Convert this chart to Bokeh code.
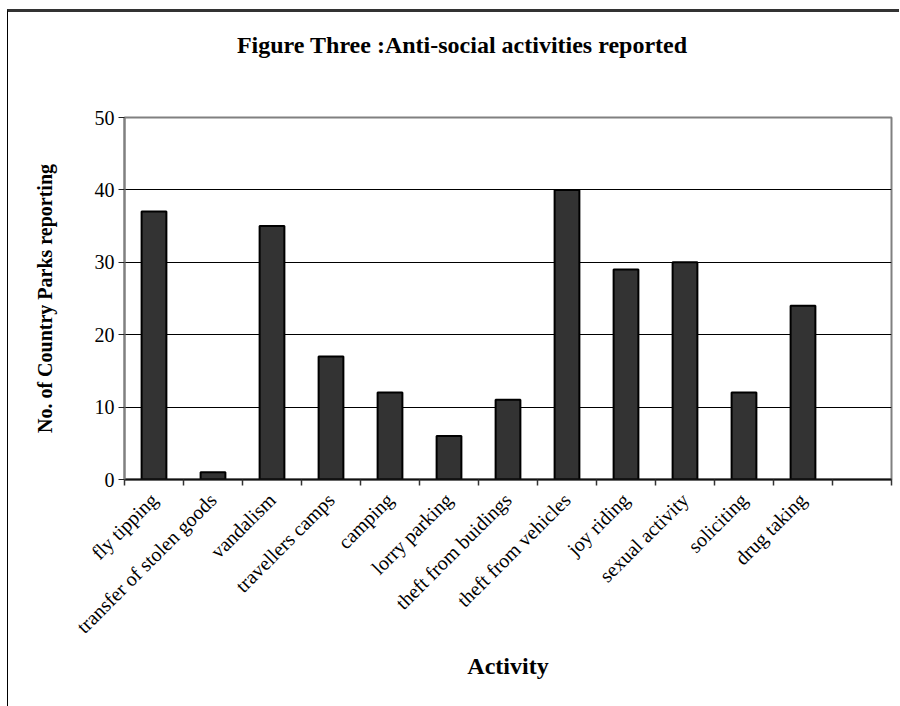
import numpy as np
from bokeh.plotting import figure
from bokeh.models import Range1d, FixedTicker, ColumnDataSource, Div
from bokeh.layouts import column
from bokeh.embed import file_html
from bokeh.resources import INLINE

title_text = "Figure Three :Anti-social activities reported"
categories = ["fly tipping", "transfer of stolen goods", "vandalism", "travellers camps",
              "camping", "lorry parking", "theft from buidings", "theft from vehicles",
              "joy riding", "sexual activity", "soliciting", "drug taking", ""]
counts = [37, 1, 35, 17, 12, 6, 11, 40, 29, 30, 12, 24, None]
y_ticks = [0, 10, 20, 30, 40, 50]
y_label = "No. of Country Parks reporting"
x_label = "Activity"

n = len(categories)
xs = list(range(n))
tops = [np.nan if v is None else v for v in counts]
src = ColumnDataSource(dict(x=xs, top=tops))

FONT = "Liberation Serif"

title_div = Div(text=title_text, width=891, height=66, margin=(0, 0, 0, 0),
                styles={"font-family": FONT, "font-weight": "bold", "font-size": "24px",
                        "color": "#000000", "text-align": "center", "line-height": "66px",
                        "padding-left": "17px", "box-sizing": "border-box",
                        "width": "891px", "background": "white"})

p = figure(width=891, height=628, output_backend="svg", toolbar_location=None,
           x_range=Range1d(-0.5, n - 0.5), y_range=Range1d(y_ticks[0], y_ticks[-1]),
           min_border_left=116, min_border_right=8, min_border_top=39, min_border_bottom=227)
p.margin = (0, 0, 0, 0)
p.background_fill_color = "white"
p.border_fill_color = "white"
p.outline_line_color = "#808080"
p.outline_line_width = 2

p.vbar(x="x", top="top", width=0.42, bottom=0, source=src,
       fill_color="#333333", line_color="#000000", line_width=2)

# y axis
p.yaxis.ticker = FixedTicker(ticks=y_ticks)
p.yaxis.axis_line_color = "#808080"
p.yaxis.axis_line_width = 2
p.yaxis.major_tick_line_color = "#222222"
p.yaxis.major_tick_out = 6
p.yaxis.major_tick_in = 0
p.yaxis.minor_tick_line_color = None
p.yaxis.major_label_text_font = FONT
p.yaxis.major_label_text_font_size = "20px"
p.yaxis.major_label_text_color = "#000000"
p.yaxis.major_label_standoff = 4
p.yaxis.axis_label = y_label
p.yaxis.axis_label_text_font = FONT
p.yaxis.axis_label_text_font_style = "bold"
p.yaxis.axis_label_text_font_size = "20px"
p.yaxis.axis_label_text_color = "#000000"
p.yaxis.axis_label_standoff = 36

# x axis
p.xaxis.ticker = FixedTicker(ticks=xs, minor_ticks=[i - 0.5 for i in range(n + 1)])
p.xaxis.major_label_overrides = {i: c for i, c in enumerate(categories)}
p.xaxis.major_label_orientation = np.pi / 4
p.xaxis.axis_line_color = "#111111"
p.xaxis.axis_line_width = 2
p.xaxis.major_tick_line_color = None
p.xaxis.minor_tick_line_color = "#333333"
p.xaxis.minor_tick_line_width = 1.5
p.xaxis.minor_tick_out = 6
p.xaxis.minor_tick_in = 0
p.xaxis.major_label_text_font = FONT
p.xaxis.major_label_text_font_size = "20px"
p.xaxis.major_label_text_color = "#000000"
p.xaxis.major_label_standoff = 11
p.xaxis.axis_label = x_label
p.xaxis.axis_label_text_font = FONT
p.xaxis.axis_label_text_font_style = "bold"
p.xaxis.axis_label_text_font_size = "24px"
p.xaxis.axis_label_text_color = "#000000"
p.xaxis.axis_label_standoff = 5

p.xgrid.grid_line_color = None
p.ygrid.ticker = FixedTicker(ticks=y_ticks)
p.ygrid.grid_line_color = "#000000"
p.ygrid.grid_line_width = 1

layout = column(title_div, p, spacing=0, margin=(9, 0, 0, 7),
                styles={"border-top": "3px solid #333333", "border-left": "1px solid #000000",
                        "background": "white"})

open("out.html", "w").write(file_html(layout, INLINE))
